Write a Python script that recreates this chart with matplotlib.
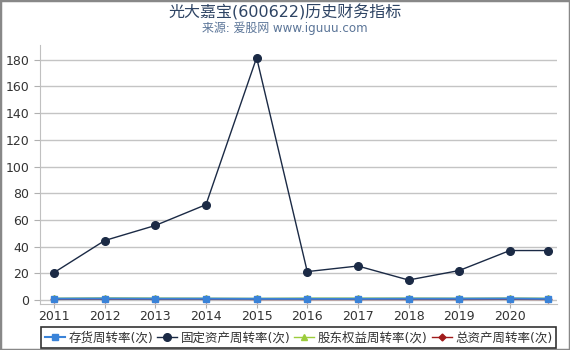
import matplotlib
matplotlib.use('Agg')
import matplotlib.pyplot as plt
from matplotlib.patches import Rectangle

plt.rcParams['font.family'] = ['DejaVu Sans', 'Noto Sans CJK SC']

# x positions: year ends, last point is a partial year (Q3)
years = [2011, 2012, 2013, 2014, 2015, 2016, 2017, 2018, 2019, 2020, 2020.75]
tick_years = [2011, 2012, 2013, 2014, 2015, 2016, 2017, 2018, 2019, 2020]

inventory_turnover = [0.9, 1.0, 0.9, 0.9, 0.8, 0.8, 0.8, 0.9, 0.9, 1.0, 0.8]
fixed_asset_turnover = [20.5, 44.5, 55.8, 71.4, 181.6, 21.2, 25.4, 14.9, 22.0, 37.0, 37.0]
equity_turnover = [1.2, 1.4, 1.3, 1.2, 1.1, 1.3, 1.3, 1.3, 1.2, 1.3, 1.2]
total_asset_turnover = [0.4, 0.5, 0.4, 0.4, 0.3, 0.3, 0.3, 0.3, 0.3, 0.4, 0.3]

labels = ['存货周转率(次)', '固定资产周转率(次)', '股东权益周转率(次)', '总资产周转率(次)']

fig = plt.figure(figsize=(5.7, 3.5), dpi=100)
ax = fig.add_axes([0.070, 0.131, 0.907, 0.740])

l4, = ax.plot(years, total_asset_turnover, color='#a01b1b', marker='D',
              markersize=3.5, linewidth=1, zorder=2)
l3, = ax.plot(years, equity_turnover, color='#9ccc3c', marker='^',
              markersize=4, linewidth=1, zorder=3)
l2, = ax.plot(years, fixed_asset_turnover, color='#1b2a45', marker='o',
              markersize=5.5, linewidth=1, zorder=4)
l1, = ax.plot(years, inventory_turnover, color='#3a83d8', marker='s',
              markersize=4.5, linewidth=1.5, zorder=5)

ax.set_xlim(2010.72, 2020.93)
ax.set_ylim(-3.2, 191)
ax.set_xticks(tick_years)
ax.set_xticklabels([str(y) for y in tick_years])
ax.set_yticks(range(0, 181, 20))

ax.grid(axis='y', color='#c4c4c4', linewidth=1)
ax.set_axisbelow(True)
for side in ['top', 'right']:
    ax.spines[side].set_visible(False)
for side in ['left', 'bottom']:
    ax.spines[side].set_color('#c0c0c0')
ax.tick_params(axis='both', colors='#b0b0b0', labelcolor='#333333',
               labelsize=9, length=4)
ax.tick_params(axis='x', length=3, pad=1)

fig.text(0.5, 0.965, '光大嘉宝(600622)历史财务指标', ha='center', va='center',
         fontsize=11.5, color='#2e4464')
fig.text(0.5, 0.918, '来源: 爱股网 www.iguuu.com', ha='center', va='center',
         fontsize=8.6, color='#5b7598')

leg = fig.legend([l1, l2, l3, l4], labels, loc='lower center',
                 bbox_to_anchor=(0.524, -0.012), ncol=4, fontsize=9,
                 frameon=True, fancybox=False, edgecolor='black',
                 handlelength=1.6, handletextpad=0.3, columnspacing=0.3,
                 borderpad=0.3, labelcolor='#333333')
leg.get_frame().set_linewidth(1.2)

fig.patches.append(Rectangle((0, 0), 1, 1, transform=fig.transFigure,
                             fill=False, edgecolor='#888888', linewidth=2.5))

fig.savefig('out.png', dpi=100)
